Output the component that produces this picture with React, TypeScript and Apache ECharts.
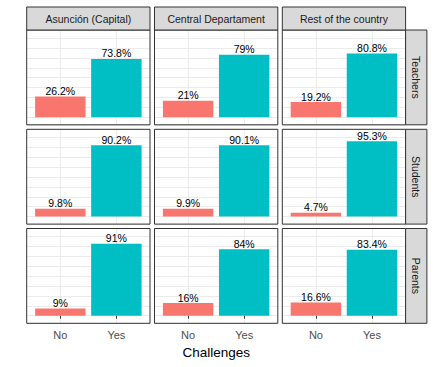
import React, { useEffect, useRef } from "react";
import * as echarts from "echarts";

const regions = ["Asunción (Capital)", "Central Departament", "Rest of the country"];
const groups = ["Teachers", "Students", "Parents"];
const challenges = ["No", "Yes"];
const teachersNo = [26.2, 21, 19.2];
const teachersYes = [73.8, 79, 80.8];
const studentsNo = [9.8, 9.9, 4.7];
const studentsYes = [90.2, 90.1, 95.3];
const parentsNo = [9, 16, 16.6];
const parentsYes = [91, 84, 83.4];
const noByGroup = [teachersNo, studentsNo, parentsNo];
const yesByGroup = [teachersYes, studentsYes, parentsYes];
const barColors = ["#F8766D", "#00BFC4"];

const FONT = '"Liberation Sans", Arial, sans-serif';
const PW = 123.3;
const PH = 94.8;
const lefts = [26.7, 154.5, 282.3];
const tops = [30, 129.3, 228.5];
const stripTop = 7;
const stripRightX = lefts[2] + PW;
const stripRightW = 21.3;

export default function App() {
  const ref = useRef<HTMLDivElement>(null);
  useEffect(() => {
    if (!ref.current) return;
    const chart = echarts.init(ref.current, null, { renderer: "svg" });
    const grid: any[] = [];
    const xAxis: any[] = [];
    const yAxis: any[] = [];
    const series: any[] = [];
    const graphic: any[] = [];
    groups.forEach((g, r) => {
      regions.forEach((reg, c) => {
        const idx = r * 3 + c;
        const isBottom = r === groups.length - 1;
        grid.push({ left: lefts[c], top: tops[r], width: PW, height: PH, show: false });
        xAxis.push({
          type: "value",
          gridIndex: idx,
          min: 0.4,
          max: 2.6,
          minInterval: 1,
          maxInterval: 1,
          axisLine: { show: false },
          axisTick: { show: isBottom, length: 3, lineStyle: { color: "#333333" }, customValues: [1, 2] },
          axisLabel: {
            show: isBottom,
            customValues: [1, 2],
            formatter: (v: number) => challenges[Math.round(v) - 1] ?? "",
            color: "#4D4D4D",
            fontSize: 11,
            fontFamily: FONT,
            margin: 6,
          },
          splitLine: { show: true, lineStyle: { color: "#EBEBEB", width: 1 } },
        });
        yAxis.push({
          type: "value",
          gridIndex: idx,
          min: -9.6,
          max: 110.4,
          minInterval: 12.5,
          maxInterval: 12.5,
          axisLine: { show: false },
          axisTick: { show: false },
          axisLabel: { show: false },
          splitLine: { show: true, lineStyle: { color: "#EBEBEB", width: 1 } },
        });
        series.push({
          type: "bar",
          xAxisIndex: idx,
          yAxisIndex: idx,
          barWidth: "90%",
          data: [
            { value: [1, noByGroup[r][c]], itemStyle: { color: barColors[0] } },
            { value: [2, yesByGroup[r][c]], itemStyle: { color: barColors[1] } },
          ],
          label: {
            show: true,
            position: "top",
            distance: 0,
            formatter: (p: any) => p.value[1] + "%",
            color: "#000000",
            fontSize: 10.5,
            fontFamily: FONT,
          },
        });
        graphic.push({
          type: "rect",
          z: 100,
          silent: true,
          shape: { x: lefts[c], y: tops[r], width: PW, height: PH },
          style: { fill: "none", stroke: "#333333", lineWidth: 1 },
        });
      });
    });
    regions.forEach((reg, c) => {
      graphic.push({
        type: "rect",
        z: 100,
        silent: true,
        shape: { x: lefts[c], y: stripTop, width: PW, height: tops[0] - stripTop },
        style: { fill: "#D9D9D9", stroke: "#333333", lineWidth: 1 },
      });
      graphic.push({
        type: "text",
        z: 101,
        silent: true,
        x: lefts[c] + PW / 2,
        y: (stripTop + tops[0]) / 2,
        style: {
          text: reg,
          fill: "#1A1A1A",
          font: `10.5px ${FONT}`,
          align: "center",
          verticalAlign: "middle",
          textAlign: "center",
          textVerticalAlign: "middle",
        },
      });
    });
    groups.forEach((g, r) => {
      graphic.push({
        type: "rect",
        z: 100,
        silent: true,
        shape: { x: stripRightX, y: tops[r], width: stripRightW, height: PH },
        style: { fill: "#D9D9D9", stroke: "#333333", lineWidth: 1 },
      });
      graphic.push({
        type: "text",
        z: 101,
        silent: true,
        x: stripRightX + stripRightW / 2,
        y: tops[r] + PH / 2,
        rotation: -Math.PI / 2,
        style: {
          text: g,
          fill: "#1A1A1A",
          font: `10.5px ${FONT}`,
          align: "center",
          verticalAlign: "middle",
          textAlign: "center",
          textVerticalAlign: "middle",
        },
      });
    });
    graphic.push({
      type: "text",
      z: 101,
      silent: true,
      x: lefts[0] + (stripRightX - lefts[0]) / 2,
      y: 352.5,
      style: {
        text: "Challenges",
        fill: "#000000",
        font: `13.5px ${FONT}`,
        align: "center",
        verticalAlign: "middle",
        textAlign: "center",
        textVerticalAlign: "middle",
      },
    });
    chart.setOption({
      animation: false,
      backgroundColor: "#FFFFFF",
      grid,
      xAxis,
      yAxis,
      series,
      graphic,
    });
    return () => chart.dispose();
  }, []);
  return (
    <div
      ref={ref}
      style={{ position: "fixed", left: 0, top: 0, width: 433, height: 367 }}
    />
  );
}
